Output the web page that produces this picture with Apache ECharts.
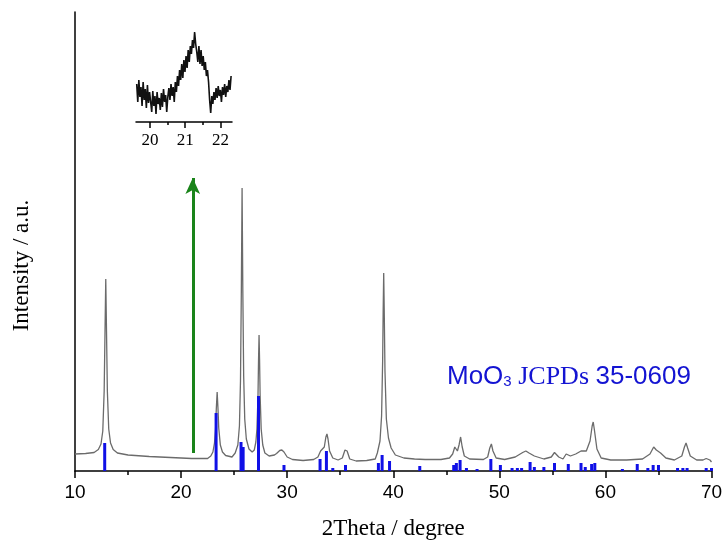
<!DOCTYPE html>
<html>
<head>
<meta charset="utf-8">
<script src="https://cdn.jsdelivr.net/npm/echarts@6/dist/echarts.min.js"></script>
<style>
  html, body { margin: 0; padding: 0; background: #fff; }
  #chart { width: 727px; height: 546px; }
</style>
</head>
<body>
<div id="chart"></div>
<script>
// XRD pattern of the sample: [2theta (deg), intensity (a.u.)]
const patternPoints = [
  [10.0, 170], [11.0, 175], [11.8, 185], [12.2, 215], [12.45, 270], [12.62, 400], [12.75, 800],
  [12.83, 1400], [12.9, 1920], [12.97, 1400], [13.05, 800], [13.18, 420], [13.35, 280], [13.6, 215],
  [14.0, 180], [15.0, 160], [17.0, 145], [19.0, 135], [21.0, 125], [22.5, 125],
  [22.8, 150], [23.0, 190], [23.15, 280], [23.25, 420], [23.32, 620], [23.4, 790], [23.48, 620],
  [23.55, 430], [23.7, 260], [23.9, 190], [24.2, 155], [24.8, 140],
  [25.1, 180], [25.35, 260], [25.5, 450], [25.6, 900], [25.68, 1800], [25.75, 2830], [25.82, 1800],
  [25.9, 950], [26.0, 520], [26.15, 320], [26.4, 220], [26.7, 190],
  [26.9, 210], [27.05, 290], [27.15, 420], [27.25, 750], [27.3, 1100], [27.35, 1360], [27.4, 1100],
  [27.45, 760], [27.55, 420], [27.7, 260], [27.9, 180], [28.3, 150], [28.8, 160],
  [29.0, 175], [29.3, 205], [29.5, 210], [29.7, 190], [30.0, 140], [30.5, 115], [31.5, 105], [32.5, 115],
  [32.9, 140], [33.15, 200], [33.3, 195], [33.5, 240], [33.65, 340], [33.75, 370], [33.85, 320],
  [34.0, 200], [34.3, 130], [34.8, 110], [35.2, 130], [35.45, 210], [35.55, 230], [35.65, 200],
  [35.9, 120], [36.5, 100], [37.5, 105], [38.3, 120],
  [38.5, 180], [38.75, 300], [38.9, 550], [39.0, 1100], [39.05, 1600], [39.1, 1980], [39.15, 1600],
  [39.22, 1000], [39.35, 520], [39.55, 330], [39.8, 230], [40.2, 160], [41.0, 130], [42.0, 120],
  [43.0, 115], [44.5, 115], [45.3, 130],
  [45.6, 170], [45.8, 240], [45.9, 250], [46.05, 200], [46.2, 260], [46.35, 340], [46.5, 240],
  [46.7, 150], [47.2, 120], [48.5, 115], [48.9, 140], [49.1, 230], [49.25, 270], [49.4, 200],
  [49.7, 130], [50.5, 115], [51.5, 140], [52.2, 185], [52.5, 200], [52.8, 180], [53.3, 150],
  [54.2, 120], [54.9, 140], [55.2, 185], [55.35, 190], [55.6, 140], [56.0, 120], [56.3, 170],
  [56.45, 190], [56.7, 150], [57.2, 170], [57.7, 200], [58.2, 200], [58.55, 300], [58.75, 450],
  [58.85, 490], [58.95, 420], [59.2, 220], [59.6, 130], [60.5, 110], [62.0, 110], [63.5, 120],
  [64.2, 170], [64.55, 240], [64.8, 210], [65.2, 180], [65.7, 130], [66.5, 110], [67.2, 150],
  [67.45, 240], [67.6, 280], [67.75, 230], [68.0, 150], [68.6, 110], [69.2, 110], [69.5, 125],
  [69.65, 130], [69.85, 110], [70.0, 90]
];

// Reference lines of MoO3 (JCPDS 35-0609): positions and relative heights
const refPositions = [
  12.8, 23.3, 25.65, 25.85, 27.3, 29.7, 33.1, 33.7, 34.3, 35.5, 38.6, 38.95, 39.65, 42.5,
  45.7, 45.95, 46.3, 46.9, 47.9, 49.2, 50.1, 51.2, 51.7, 52.1, 52.9, 53.3, 54.2, 55.2, 56.5,
  57.7, 58.1, 58.7, 59.0, 61.6, 63.0, 64.0, 64.5, 65.0, 66.8, 67.3, 67.7, 69.5, 70.0
];
const refHeights = [
  280, 580, 290, 240, 750, 60, 120, 200, 30, 60, 80, 160, 100, 50,
  60, 80, 110, 30, 20, 120, 60, 30, 30, 30, 90, 40, 40, 80, 70,
  80, 40, 70, 80, 20, 70, 30, 60, 60, 30, 30, 30, 30, 30
];

// Magnified scan around 21 deg (inset)
const insetStart = 19.62;
const insetStep = 0.0305;
const insetCounts = [
  38, 20, 42, 25, 35, 16, 40, 22, 33, 14, 37, 19, 30,
  28, 10, 31, 16, 26, 8, 30, 18, 24, 12, 29, 15, 33, 20, 27, 10, 25,
  34, 22, 38, 26, 35, 20, 40, 30,
  46, 36, 52, 42, 58, 44, 62, 50,
  66, 54, 72, 60, 76, 68, 82, 74, 90, 78,
  70, 60, 76, 58, 72, 56, 66, 52,
  60, 46, 52, 40,
  22, 9,
  26, 18, 30, 22, 34, 24, 36, 26, 32, 20, 35, 27, 38, 25, 36, 30, 42, 32, 46
];
const insetMajorTicks = [20, 21, 22];
const insetMinorTicks = [20.5, 21.5];

// Arrow marking the position of the magnified region
const arrowX = 21.1;
const arrowFrom = 180;
const arrowTo = 2930;

const xTickLabels = [10, 20, 30, 40, 50, 60, 70];

const refBars = refPositions.map((p, i) => [p, refHeights[i]]);
const insetPoints = insetCounts.map((c, i) => [+(insetStart + i * insetStep).toFixed(4), c]);

const chart = echarts.init(document.getElementById('chart'), null, { renderer: 'canvas' });

const black = '#000';
const serif = '"Liberation Serif", "Times New Roman", serif';
const sans = '"Liberation Sans", Arial, sans-serif';
const blue = '#1414d2';

chart.setOption({
  animation: false,
  backgroundColor: '#fff',
  grid: [
    { left: 75, right: 15.5, top: 12, bottom: 75 },
    { left: 136, width: 96, top: 30, height: 92 }
  ],
  xAxis: [
    {
      type: 'value', gridIndex: 0,
      min: xTickLabels[0], max: xTickLabels[xTickLabels.length - 1], interval: 10,
      axisLine: { lineStyle: { color: black, width: 1.5 } },
      axisTick: { length: 7, lineStyle: { color: black, width: 1.5 } },
      minorTick: { show: true, splitNumber: 2, length: 4, lineStyle: { color: black, width: 1.5 } },
      splitLine: { show: false },
      axisLabel: { color: black, fontSize: 19, fontFamily: sans, margin: 12 },
      name: '2Theta / degree', nameLocation: 'middle', nameGap: 46,
      nameTextStyle: { color: black, fontSize: 23, fontFamily: serif }
    },
    {
      type: 'value', gridIndex: 1, position: 'bottom', min: 19.6, max: 22.33,
      axisLine: { lineStyle: { color: black, width: 1.5 } },
      axisTick: { customValues: insetMajorTicks, length: 6, lineStyle: { color: black, width: 1.5 } },
      axisLabel: { customValues: insetMajorTicks, color: black, fontSize: 17, fontFamily: serif, margin: 10 },
      splitLine: { show: false }
    },
    {
      type: 'value', gridIndex: 1, position: 'bottom', offset: 0, min: 19.6, max: 22.33,
      axisLine: { show: false },
      axisTick: { customValues: insetMinorTicks, length: 3, lineStyle: { color: black, width: 1.5 } },
      axisLabel: { show: false },
      splitLine: { show: false }
    }
  ],
  yAxis: [
    {
      type: 'value', gridIndex: 0, min: 0, max: 4590,
      axisLine: { show: true, lineStyle: { color: black, width: 1.5 } },
      axisTick: { show: false }, axisLabel: { show: false }, splitLine: { show: false },
      name: 'Intensity / a.u.', nameLocation: 'middle', nameGap: 42,
      nameTextStyle: { color: black, fontSize: 23, fontFamily: serif, padding: [0, 48, 0, 0] }
    },
    {
      type: 'value', gridIndex: 1, min: 0, max: 92, show: false
    }
  ],
  series: [
    {
      type: 'line', xAxisIndex: 0, yAxisIndex: 0,
      data: patternPoints, showSymbol: false, smooth: false,
      lineStyle: { color: '#6b6b6b', width: 1.3 },
      z: 3,
      markLine: {
        silent: true,
        symbol: ['none', 'arrow'],
        symbolSize: [11, 16],
        label: { show: false },
        lineStyle: { color: '#1a841a', width: 3, type: 'solid' },
        data: [[{ coord: [arrowX, arrowFrom] }, { coord: [arrowX, arrowTo] }]]
      }
    },
    {
      type: 'bar', xAxisIndex: 0, yAxisIndex: 0,
      data: refBars, barWidth: 3,
      itemStyle: { color: '#1010e6' },
      z: 4
    },
    {
      type: 'line', xAxisIndex: 1, yAxisIndex: 1,
      data: insetPoints, showSymbol: false,
      lineStyle: { color: '#111', width: 1.6 }
    }
  ],
  graphic: [
    {
      type: 'text',
      left: 447, top: 364,
      style: {
        text: '{a|MoO}{s|3}{b| JCPDs }{a|35-0609}',
        rich: {
          a: { fontFamily: sans, fontSize: 26, fill: blue },
          s: { fontFamily: sans, fontSize: 15, fill: blue, padding: [10, 0, 0, 0] },
          b: { fontFamily: serif, fontSize: 26, fill: blue }
        }
      }
    }
  ]
});
</script>
</body>
</html>
